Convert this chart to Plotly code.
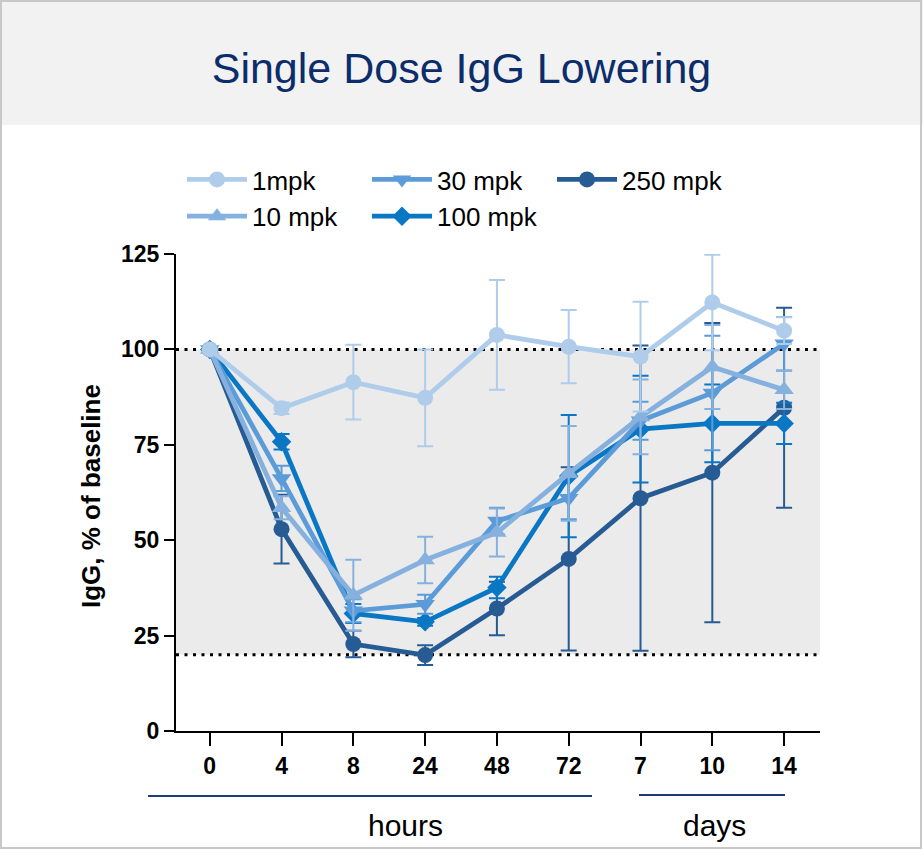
import plotly.graph_objects as go

# ---- data ----
times = ["0", "4", "8", "24", "48", "72", "7", "10", "14"]

ig_1mpk = [100, 84.6, 91.4, 87.3, 103.8, 100.7, 98.1, 112.3, 104.9]
err_1mpk = [0, 1.5, 9.8, 12.7, 14.4, 9.6, 14.4, 12.5, 3.5]

ig_10mpk = [100, 58.5, 35.6, 44.8, 52.0, 67.5, 82.3, 95.4, 89.4]
err_10mpk = [0, 3.0, 9.3, 6.1, 6.3, 12.4, 9.8, 11.0, 5.0]

ig_30mpk = [100, 66.2, 31.5, 33.2, 55.0, 61.0, 81.3, 88.6, 101.5]
err_30mpk = [0, 3.3, 3.0, 2.5, 3.5, 5.5, 5.0, 15.0, 7.0]

ig_100mpk = [100, 75.8, 30.8, 28.6, 37.6, 66.8, 79.1, 80.6, 80.6]
err_100mpk = [0, 2.0, 2.5, 1.0, 2.8, 16.0, 14.0, 10.2, 5.4]

ig_250mpk = [100, 52.9, 22.8, 19.9, 32.1, 45.1, 61.0, 67.7, 84.7]
err_250mpk = [0, 9.0, 3.5, 2.6, 7.0, 24.0, 40.0, 39.2, 26.2]

y_ticks = [0, 25, 50, 75, 100, 125]
band_low, band_high = 20, 100

FONT = "Liberation Sans, Arial, sans-serif"

series = [
    # name, values, errors, color, symbol, size, legendrank
    ("250 mpk", ig_250mpk, err_250mpk, "#265b94", "circle", 16, 3),
    ("100 mpk", ig_100mpk, err_100mpk, "#0a77c5", "diamond", 15, 5),
    ("30 mpk", ig_30mpk, err_30mpk, "#5b9bd8", "triangle-down", 17, 2),
    ("10 mpk", ig_10mpk, err_10mpk, "#86b1df", "triangle-up", 17, 4),
    ("1mpk", ig_1mpk, err_1mpk, "#afcdea", "circle", 16, 1),
]

fig = go.Figure()
for name, vals, errs, color, sym, size, rank in series:
    fig.add_trace(go.Scatter(
        x=times, y=vals, name=name, mode="lines+markers",
        line=dict(color=color, width=4.8),
        marker=dict(symbol=sym, size=size, color=color),
        error_y=dict(type="data", array=errs, visible=True, color=color,
                     thickness=2, width=8),
        legendrank=rank,
    ))

W, H = 923, 850
L, R, T, B = 176, 103, 254, 119
pw, ph = W - L - R, H - T - B


def px(xp):
    return (xp - L) / pw


def py(yp):
    return (H - B - yp) / ph


shapes = [
    # header band
    dict(type="rect", xref="paper", yref="paper", x0=px(0), x1=px(W), y0=py(125), y1=py(0),
         fillcolor="#f2f2f2", line=dict(width=0), layer="below"),
    # outer border
    dict(type="rect", xref="paper", yref="paper", x0=px(1), x1=px(W - 2), y0=py(H - 2), y1=py(1),
         fillcolor="rgba(0,0,0,0)", line=dict(color="#c8c8c8", width=2), layer="below"),
    # gray band
    dict(type="rect", xref="paper", yref="y", x0=0, x1=1, y0=band_low, y1=band_high,
         fillcolor="#ebebeb", line=dict(width=0), layer="below"),
    dict(type="line", xref="paper", yref="y", x0=0, x1=1, y0=band_high, y1=band_high,
         line=dict(color="black", width=3, dash="3px,5.5px"), layer="below"),
    dict(type="line", xref="paper", yref="y", x0=0, x1=1, y0=band_low, y1=band_low,
         line=dict(color="black", width=3, dash="3px,5.5px"), layer="below"),
    # hours / days brackets
    dict(type="line", xref="paper", yref="paper", x0=px(148), x1=px(592), y0=py(796), y1=py(796),
         line=dict(color="#1c3d78", width=2)),
    dict(type="line", xref="paper", yref="paper", x0=px(639), x1=px(785), y0=py(795), y1=py(795),
         line=dict(color="#1c3d78", width=2)),
]

annotations = [
    dict(text="hours", xref="paper", yref="paper", x=px(405), y=py(825), showarrow=False,
         xanchor="center", yanchor="middle", font=dict(family=FONT, size=30, color="black")),
    dict(text="days", xref="paper", yref="paper", x=px(714), y=py(825), showarrow=False,
         xanchor="center", yanchor="middle", font=dict(family=FONT, size=30, color="black")),
    dict(text="<b>IgG, % of baseline</b>", xref="paper", yref="paper", x=px(91), y=py(496),
         showarrow=False, textangle=-90, xanchor="center", yanchor="middle",
         font=dict(family=FONT, size=26, color="black")),
]

fig.update_layout(
    width=W, height=H,
    margin=dict(l=L, r=R, t=T, b=B, pad=0),
    paper_bgcolor="white", plot_bgcolor="white",
    title=dict(text="Single Dose IgG Lowering", x=0.5, xanchor="center", xref="container",
               y=1 - 68 / H, yanchor="middle",
               font=dict(family=FONT, size=43, color="#0b2d6b")),
    shapes=shapes, annotations=annotations,
    showlegend=True,
    legend=dict(orientation="h", x=px(182), y=py(156), xanchor="left", yanchor="top",
                entrywidth=110, itemwidth=60, bgcolor="rgba(0,0,0,0)",
                font=dict(family=FONT, size=26, color="black"), tracegroupgap=0,
                traceorder="normal"),
    xaxis=dict(type="category", range=[-0.47, 8.5], showline=True, linecolor="black",
               linewidth=2, ticks="outside", ticklen=13, tickwidth=2, tickcolor="black",
               showgrid=False, zeroline=False,
               tickfont=dict(family=FONT, size=23, color="black"),
               tickvals=times, ticktext=[f"<b>{t}</b>" for t in times]),
    yaxis=dict(range=[0, 125], showline=True, linecolor="black", linewidth=2,
               ticks="outside", ticklen=10, tickwidth=2, tickcolor="black",
               showgrid=False, zeroline=False, tickvals=y_ticks,
               ticktext=[f"<b>{v}</b>" for v in y_ticks],
               tickfont=dict(family=FONT, size=23, color="black")),
)

fig.write_html("out.html")
